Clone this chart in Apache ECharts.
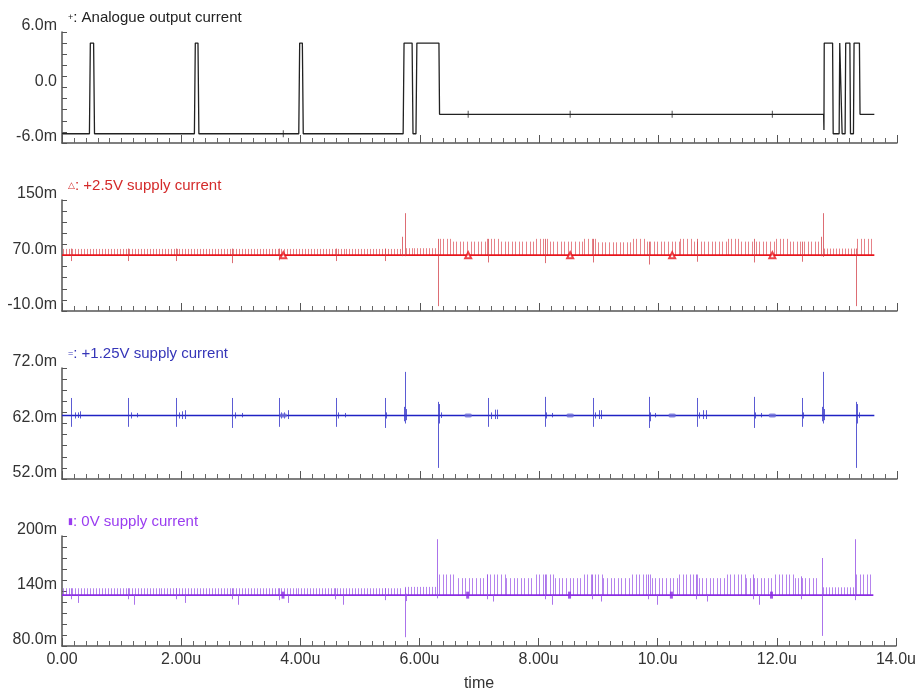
<!DOCTYPE html>
<html>
<head>
<meta charset="utf-8">
<script src="https://cdn.jsdelivr.net/npm/echarts@6/dist/echarts.min.js"></script>
<style>
  html, body { margin: 0; padding: 0; background: #fff; }
  #main { width: 919px; height: 693px; }
</style>
</head>
<body>
<div id="main"></div>
<script>
// axis text
var timeTicks = ['0.00', '2.00u', '4.00u', '6.00u', '8.00u', '10.0u', '12.0u', '14.0u'];
var titles = ['Analogue output current', '+2.5V supply current', '+1.25V supply current', '0V supply current'];
var titleMarks = ['+', '\u25B3', '=', '\u25AE'];
var yRanges = [[-6, 6], [-10, 150], [52, 72], [80, 200]];
var yTickLabels = [
  ['-6.0m', '0.0', '6.0m'],
  ['-10.0m', '70.0m', '150m'],
  ['52.0m', '62.0m', '72.0m'],
  ['80.0m', '140m', '200m']
];

// analogue output current (mA) : [time us, value]
var outputWave = [
  [0.00, -5.0], [0.46, -5.0], [0.475, 4.8], [0.53, 4.8], [0.545, -5.0],
  [2.22, -5.0], [2.235, 4.8], [2.28, 4.8], [2.295, -5.0],
  [3.97, -5.0], [3.985, 4.8], [4.03, 4.8], [4.045, -5.0],
  [5.72, -5.0], [5.735, 4.8], [5.87, 4.8], [5.885, -5.0], [5.935, -5.0], [5.95, 4.8], [6.32, 4.8], [6.33, -2.9],
  [12.77, -2.9], [12.775, -4.6], [12.78, 4.8], [12.92, 4.8], [12.93, -5.0], [13.03, -5.0], [13.04, 4.8],
  [13.07, 4.8], [13.08, -5.0], [13.13, -5.0], [13.14, 4.8], [13.21, 4.8], [13.22, -5.0], [13.27, -5.0],
  [13.28, 4.8], [13.37, 4.8], [13.38, -2.9], [13.62, -2.9]
];
var markerTimes = [3.71, 6.81, 8.52, 10.23, 11.91];
var outputMarkerLevels = [-5.0, -2.9, -2.9, -2.9, -2.9];

// clock comb spacing (us): denser before 6.3u than after
var combPeriods = [0.05, 0.06];

// +2.5V supply (mA)
var supply25Base = 70.5;
var supply25Comb = [ // [t0, t1, top, period index]
  [0.02, 5.70, 79.5, 0], [5.76, 6.27, 80.5, 0],
  [6.33, 6.52, 94, 1], [6.55, 7.10, 90, 1], [7.13, 7.33, 94, 1], [7.36, 7.93, 90, 1],
  [7.95, 8.15, 94, 1], [8.18, 8.74, 90, 1], [8.76, 8.96, 94, 1], [8.99, 9.55, 89, 1],
  [9.57, 9.77, 94, 1], [9.80, 10.34, 90, 1], [10.36, 10.56, 94, 1], [10.59, 11.14, 90, 1],
  [11.16, 11.36, 94, 1], [11.39, 11.95, 90, 1], [11.97, 12.17, 94, 1], [12.20, 12.70, 90, 1],
  [12.78, 13.28, 80, 0], [13.33, 13.60, 94, 1]
];
var supply25Spikes = [ // [t, low, high]
  [0.15, 62, 80], [1.11, 62, 80], [1.91, 62, 80], [2.85, 59, 80], [3.64, 63, 80], [4.59, 62, 80], [5.42, 62, 80],
  [5.70, 69, 97], [5.75, 69, 131], [6.30, -3, 94],
  [7.14, 60, 94], [8.10, 59, 94], [8.90, 60, 94], [9.84, 57, 90], [10.65, 61, 94], [11.60, 60, 94], [12.41, 61, 90],
  [12.72, 69, 97], [12.76, 68, 131], [13.31, -3, 80]
];

// +1.25V supply (mA)
var supply125Base = 63.45;
var supply125Spikes = [
  [0.15, 61.4, 66.6], [0.22, 62.9, 64.0], [0.27, 63.0, 64.0], [0.31, 62.9, 64.2],
  [1.11, 61.4, 66.6], [1.16, 62.9, 64.0], [1.26, 63.1, 63.9],
  [1.91, 61.4, 66.6], [1.97, 62.9, 64.0], [2.02, 62.8, 64.2], [2.06, 62.8, 64.4],
  [2.85, 61.2, 66.6], [2.90, 62.9, 64.0], [3.01, 63.1, 63.9],
  [3.64, 61.4, 66.6], [3.68, 62.9, 64.0], [3.73, 62.9, 64.0], [3.79, 62.8, 64.4],
  [4.59, 61.4, 66.6], [4.63, 62.9, 64.0], [4.74, 63.1, 63.9],
  [5.42, 61.2, 66.6], [5.44, 62.9, 64.0],
  [5.73, 62.4, 65.0], [5.75, 62.0, 71.3], [5.77, 62.6, 64.6],
  [6.30, 54.0, 65.9], [6.32, 62.0, 65.5], [6.35, 63.0, 64.0],
  [7.14, 61.4, 66.6], [7.20, 62.8, 64.0], [7.26, 62.8, 64.5], [7.30, 62.8, 64.5],
  [8.10, 61.4, 66.8], [8.12, 62.9, 64.0], [8.22, 63.1, 63.9],
  [8.90, 61.4, 66.6], [8.93, 62.9, 64.0], [9.00, 62.8, 64.4], [9.04, 62.8, 64.4],
  [9.84, 61.2, 66.8], [9.86, 62.4, 64.0], [9.95, 63.1, 63.9],
  [10.65, 61.4, 66.6], [10.68, 62.9, 64.0], [10.74, 62.8, 64.4], [10.80, 62.8, 64.4],
  [11.60, 61.2, 66.8], [11.62, 62.9, 64.0], [11.72, 63.1, 63.9],
  [12.41, 61.4, 66.6], [12.43, 62.9, 64.0],
  [12.74, 62.4, 65.0], [12.76, 62.0, 71.3], [12.78, 62.6, 64.6],
  [13.31, 54.0, 65.9], [13.33, 62.0, 65.5], [13.36, 63.0, 64.0]
];

// 0V supply (mA)
var supply0Base = 135.5;
var supply0Comb = [
  [0.02, 5.70, 143, 0], [5.76, 6.27, 144.5, 0],
  [6.33, 6.62, 158, 1], [6.65, 7.10, 154, 1], [7.13, 7.43, 158, 1], [7.46, 7.93, 154, 1],
  [7.95, 8.25, 158, 1], [8.28, 8.74, 154, 1], [8.76, 9.06, 158, 1], [9.09, 9.55, 154, 1],
  [9.57, 9.87, 158, 1], [9.90, 10.34, 154, 1], [10.36, 10.66, 158, 1], [10.69, 11.14, 154, 1],
  [11.16, 11.46, 158, 1], [11.49, 11.95, 154, 1], [11.97, 12.27, 158, 1], [12.30, 12.70, 154, 1],
  [12.78, 13.28, 144, 0], [13.33, 13.60, 158, 1]
];
var supply0Spikes = [
  [0.15, 131, 143], [0.27, 127, 136], [1.11, 131, 143], [1.21, 125, 136], [1.91, 131, 143], [2.06, 127, 136],
  [2.85, 131, 143], [2.95, 125, 136], [3.64, 130, 143], [3.79, 127, 136], [4.59, 131, 143], [4.71, 125, 136],
  [5.42, 130, 143], [5.75, 89.6, 143], [5.78, 129, 137], [6.30, 132, 196.5],
  [7.14, 131, 158], [7.23, 128.5, 136], [8.10, 131, 158], [8.22, 125, 136], [8.90, 131, 158], [9.05, 128.5, 136],
  [9.84, 131, 158], [9.98, 125, 136], [10.65, 131, 158], [10.82, 128.5, 136], [11.60, 131, 158], [11.70, 125, 136],
  [12.41, 131, 156], [12.76, 91, 176], [13.31, 130, 196.5]
];

var traceEnd = 13.62;

var chart = echarts.init(document.getElementById('main'));
var font = '"Liberation Sans", Arial, sans-serif';
var gridTops = [32, 200, 368, 536];
var titleColors = ['#222222', '#d42a2a', '#3535b8', '#9a3cf0'];

function combItem(color) {
  return function (params, api) {
    var t0 = api.value(0), t1 = api.value(1), top = api.value(2), base = api.value(3);
    var step = combPeriods[api.value(4)];
    var kids = [];
    for (var t = t0; t <= t1 + 1e-9; t += step) {
      var p = api.coord([t, base]), q = api.coord([t, top]);
      kids.push({ type: 'line', shape: { x1: Math.round(p[0]) + 0.5, y1: p[1], x2: Math.round(q[0]) + 0.5, y2: q[1] },
        style: { stroke: color, lineWidth: 1 } });
    }
    return { type: 'group', children: kids };
  };
}
function spikeItem(color) {
  return function (params, api) {
    var p = api.coord([api.value(0), api.value(1)]), q = api.coord([api.value(0), api.value(2)]);
    return { type: 'line', shape: { x1: Math.round(p[0]) + 0.5, y1: p[1], x2: Math.round(q[0]) + 0.5, y2: q[1] },
      style: { stroke: color, lineWidth: 1 } };
  };
}
function withBase(list, base) {
  return list.map(function (d) { return [d[0], d[1], d[2], base, d[3]]; });
}
function flat(base) { return [[0, base], [traceEnd, base]]; }

var grids = [], xAxes = [], yAxes = [], titleList = [];
for (var i = 0; i < 4; i++) {
  grids.push({ left: 62, right: 22, top: gridTops[i], height: 111 });
  xAxes.push({
    type: 'value', gridIndex: i, min: 0, max: 14, interval: 2,
    name: i === 3 ? 'time' : '', nameLocation: 'middle', nameGap: 30,
    nameTextStyle: { fontFamily: font, fontSize: 16, color: '#333' },
    axisLine: { onZero: false, lineStyle: { color: '#555', width: 1.5 } },
    axisTick: { inside: true, length: 8, lineStyle: { color: '#555' } },
    minorTick: { show: true, splitNumber: 10, length: 5, lineStyle: { color: '#666' } },
    splitLine: { show: false },
    axisLabel: {
      show: i === 3, fontFamily: font, fontSize: 16, color: '#333', margin: 6,
      formatter: function (v) { return timeTicks[Math.round(v / 2)]; }
    }
  });
  (function (k) {
    var r = yRanges[k];
    yAxes.push({
      type: 'value', gridIndex: k, min: r[0], max: r[1], interval: (r[1] - r[0]) / 2,
      axisLine: { show: true, onZero: false, lineStyle: { color: '#555', width: 1.5 } },
      axisTick: { inside: false, length: -5, lineStyle: { color: '#555' } },
      minorTick: { show: true, splitNumber: 5, length: -5, lineStyle: { color: '#555' } },
      splitLine: { show: false },
      axisLabel: {
        fontFamily: font, fontSize: 16, color: '#333', margin: 5,
        verticalAlign: 'bottom', lineHeight: 12,
        formatter: function (v) { return yTickLabels[k][Math.round((v - r[0]) / ((r[1] - r[0]) / 2))]; }
      }
    });
  })(i);
  titleList.push({
    left: 63, top: gridTops[i] - 27,
    text: '{m|' + titleMarks[i] + '}: ' + titles[i],
    textStyle: {
      fontFamily: font, fontSize: 15, fontWeight: 'normal', color: titleColors[i],
      rich: { m: { fontSize: 9, color: titleColors[i], fontFamily: font } }
    }
  });
}

var series = [
  // analogue output
  { type: 'line', xAxisIndex: 0, yAxisIndex: 0, data: outputWave, showSymbol: false,
    lineStyle: { color: '#222', width: 1.3 }, z: 3 },
  { type: 'scatter', xAxisIndex: 0, yAxisIndex: 0, symbol: 'rect', symbolSize: [1, 7],
    data: markerTimes.map(function (t, j) { return [t, outputMarkerLevels[j]]; }),
    itemStyle: { color: '#222' }, z: 4 },

  // +2.5V
  { type: 'custom', xAxisIndex: 1, yAxisIndex: 1, renderItem: combItem('rgba(215,55,65,0.62)'),
    data: withBase(supply25Comb, supply25Base), z: 1 },
  { type: 'line', xAxisIndex: 1, yAxisIndex: 1, data: flat(supply25Base), showSymbol: false,
    lineStyle: { color: '#e8141b', width: 1.6 }, z: 2 },
  { type: 'custom', xAxisIndex: 1, yAxisIndex: 1, renderItem: spikeItem('rgba(210,60,70,0.75)'),
    data: supply25Spikes, z: 3 },
  { type: 'scatter', xAxisIndex: 1, yAxisIndex: 1, symbol: 'emptyTriangle', symbolSize: 6,
    data: markerTimes.map(function (t) { return [t, supply25Base]; }),
    itemStyle: { color: '#e8141b', borderWidth: 1 }, z: 4 },

  // +1.25V
  { type: 'line', xAxisIndex: 2, yAxisIndex: 2, data: flat(supply125Base), showSymbol: false,
    lineStyle: { color: '#1f22c4', width: 1.5 }, z: 2 },
  { type: 'custom', xAxisIndex: 2, yAxisIndex: 2, renderItem: spikeItem('rgba(50,50,200,0.8)'),
    data: supply125Spikes, z: 3 },
  { type: 'scatter', xAxisIndex: 2, yAxisIndex: 2, symbol: 'roundRect', symbolSize: [7, 4],
    data: markerTimes.map(function (t) { return [t, supply125Base]; }),
    itemStyle: { color: '#6b6bd6' }, z: 4 },

  // 0V
  { type: 'custom', xAxisIndex: 3, yAxisIndex: 3, renderItem: combItem('rgba(150,80,230,0.7)'),
    data: withBase(supply0Comb, supply0Base), z: 1 },
  { type: 'line', xAxisIndex: 3, yAxisIndex: 3, data: flat(supply0Base), showSymbol: false,
    lineStyle: { color: '#8a2be2', width: 1.6 }, z: 2 },
  { type: 'custom', xAxisIndex: 3, yAxisIndex: 3, renderItem: spikeItem('rgba(150,80,230,0.8)'),
    data: supply0Spikes, z: 3 },
  { type: 'scatter', xAxisIndex: 3, yAxisIndex: 3, symbol: 'rect', symbolSize: [3, 7],
    data: markerTimes.map(function (t) { return [t, supply0Base]; }),
    itemStyle: { color: '#8a2be2' }, z: 4 }
];

chart.setOption({
  animation: false,
  backgroundColor: '#fff',
  title: titleList,
  grid: grids,
  xAxis: xAxes,
  yAxis: yAxes,
  series: series
});
</script>
</body>
</html>
